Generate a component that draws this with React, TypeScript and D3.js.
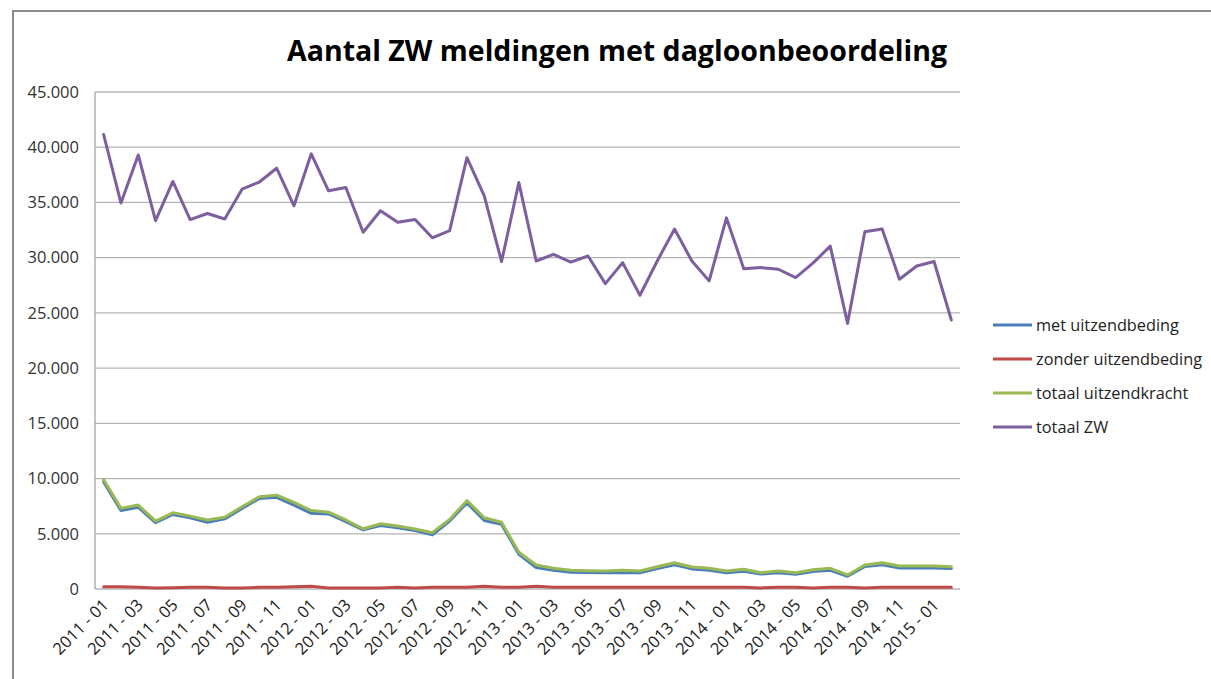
import * as React from 'react';
import * as d3 from 'd3';

const months: string[] = [
  '2011 - 01', '2011 - 02', '2011 - 03', '2011 - 04', '2011 - 05', '2011 - 06', '2011 - 07', '2011 - 08', '2011 - 09', '2011 - 10', '2011 - 11', '2011 - 12',
  '2012 - 01', '2012 - 02', '2012 - 03', '2012 - 04', '2012 - 05', '2012 - 06', '2012 - 07', '2012 - 08', '2012 - 09', '2012 - 10', '2012 - 11', '2012 - 12',
  '2013 - 01', '2013 - 02', '2013 - 03', '2013 - 04', '2013 - 05', '2013 - 06', '2013 - 07', '2013 - 08', '2013 - 09', '2013 - 10', '2013 - 11', '2013 - 12',
  '2014 - 01', '2014 - 02', '2014 - 03', '2014 - 04', '2014 - 05', '2014 - 06', '2014 - 07', '2014 - 08', '2014 - 09', '2014 - 10', '2014 - 11', '2014 - 12',
  '2015 - 01', '2015 - 02',
];

const zonderUitzendbeding: number[] = [
  200, 200, 150, 100, 120, 150, 150, 100, 100, 150, 150, 200,
  250, 100, 100, 100, 100, 150, 100, 150, 150, 150, 250, 150,
  150, 250, 150, 150, 150, 150, 150, 150, 150, 150, 150, 150,
  150, 150, 100, 150, 150, 100, 150, 150, 100, 150, 150, 150,
  150, 150,
];

const metUitzendbeding: number[] = [
  9700, 7100, 7400, 6000, 6750, 6450, 6050, 6350, 7300, 8200, 8300, 7600,
  6850, 6800, 6100, 5350, 5750, 5550, 5300, 4900, 6150, 7800, 6200, 5850,
  3150, 1950, 1700, 1520, 1490, 1460, 1500, 1460, 1850, 2200, 1820, 1700,
  1460, 1600, 1360, 1460, 1330, 1580, 1700, 1150, 2040, 2200, 1900, 1920,
  1900, 1850,
];

const totaalUitzendkracht: number[] = [
  9900, 7300, 7600, 6150, 6900, 6600, 6250, 6500, 7450, 8350, 8500, 7850,
  7100, 6950, 6250, 5450, 5900, 5700, 5430, 5100, 6300, 8000, 6450, 6050,
  3320, 2170, 1870, 1690, 1660, 1630, 1690, 1630, 2020, 2380, 1990, 1870,
  1630, 1780, 1480, 1630, 1480, 1750, 1870, 1270, 2170, 2380, 2080, 2080,
  2080, 2020,
];

const totaalZW: number[] = [
  41150, 34950, 39300, 33350, 36900, 33450, 34000, 33500, 36200, 36850, 38100, 34700,
  39400, 36050, 36350, 32300, 34250, 33200, 33450, 31800, 32450, 39050, 35600, 29650,
  36800, 29700, 30300, 29600, 30150, 27650, 29550, 26600, 29700, 32600, 29700, 27900,
  33600, 29000, 29100, 28950, 28200, 29500, 31050, 24050, 32350, 32600, 28050, 29250,
  29650, 24350,
];

const yTicks: number[] = [0, 5000, 10000, 15000, 20000, 25000, 30000, 35000, 40000, 45000];

const series = [
  { name: 'met uitzendbeding', values: metUitzendbeding, color: '#4a7ebb' },
  { name: 'zonder uitzendbeding', values: zonderUitzendbeding, color: '#be4b48' },
  { name: 'totaal uitzendkracht', values: totaalUitzendkracht, color: '#98b954' },
  { name: 'totaal ZW', values: totaalZW, color: '#7d5fa0' },
];

const nl = d3.formatLocale({ decimal: ',', thousands: '.', grouping: [3], currency: ['', ''] });
const fmt = nl.format(',');

const dim = { width: 1211, height: 679, left: 95, right: 960, top: 92, bottom: 589 };
const font = '"Open Sans", "Liberation Sans", sans-serif';

export default function App() {
  const x = d3.scalePoint<string>().domain(months).range([dim.left, dim.right]).padding(0.5);
  const y = d3.scaleLinear().domain([0, 45000]).range([dim.bottom, dim.top]);

  const line = d3.line<number>()
    .x((_, i) => x(months[i])!)
    .y(d => y(d));

  return (
    <svg width={dim.width} height={dim.height} style={{ position: 'absolute', left: 0, top: 0, background: '#fff' }}>
      {/* frame */}
      <path d={`M13,${dim.height} V11 H${dim.width}`} fill="none" stroke="#8c8c8c" strokeWidth={2} />

      <text x={617} y={61} textAnchor="middle" fontFamily={font} fontWeight={700} fontSize={28}
        textLength={660} lengthAdjust="spacingAndGlyphs" fill="#000">
        Aantal ZW meldingen met dagloonbeoordeling
      </text>

      {yTicks.map(t => (
        <g key={t}>
          <line x1={dim.left} x2={dim.right} y1={y(t)} y2={y(t)} stroke="#b3b3b3" strokeWidth={1.3} />
          <text x={79} y={y(t)} dy="0.35em" textAnchor="end" fontFamily={font} fontSize={16.5} fill="#333">
            {fmt(t)}
          </text>
        </g>
      ))}
      <line x1={dim.left} x2={dim.left} y1={dim.top} y2={dim.bottom} stroke="#a6a6a6" strokeWidth={1.3} />

      {months.map((m, i) => i % 2 === 0 ? (
        <text key={m} transform={`translate(${x(m)! + 6},${dim.bottom + 17}) rotate(-45)`}
          textAnchor="end" fontFamily={font} fontSize={16.5} fill="#222">
          {m}
        </text>
      ) : null)}

      {series.map(s => (
        <path key={s.name} d={line(s.values)!} fill="none" stroke={s.color} strokeWidth={3}
          strokeLinejoin="round" strokeLinecap="round" />
      ))}

      {series.map((s, i) => (
        <g key={s.name} transform={`translate(993,${325 + i * 34})`}>
          <line x1={0} x2={39} y1={0} y2={0} stroke={s.color} strokeWidth={3} />
          <text x={43} y={0} dy="0.35em" fontFamily={font} fontSize={16.3} fill="#222">{s.name}</text>
        </g>
      ))}
    </svg>
  );
}
